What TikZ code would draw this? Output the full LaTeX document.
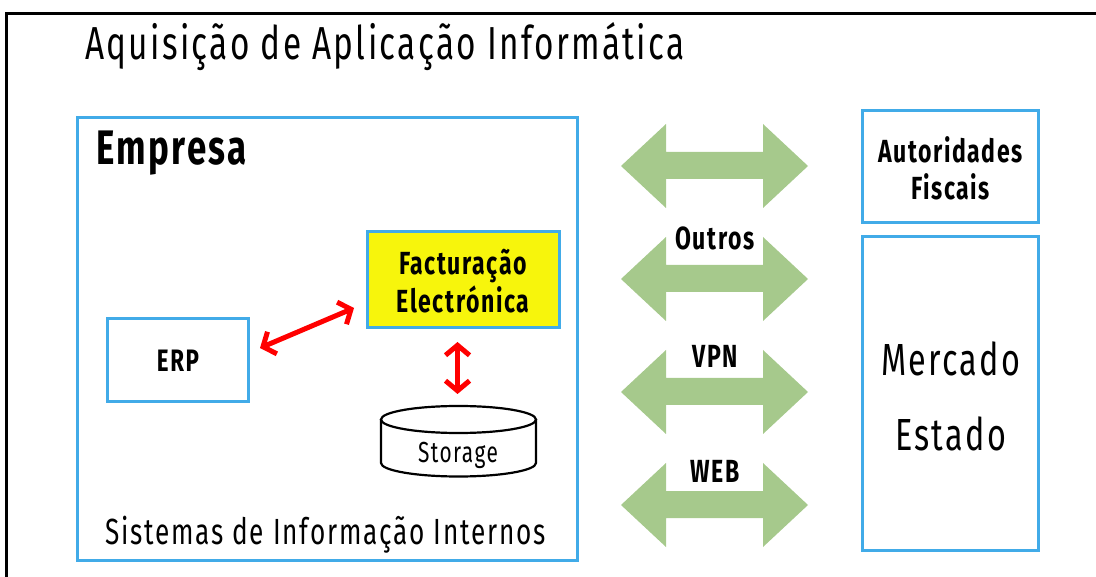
\documentclass[tikz,border=0pt]{standalone}
\usepackage{fontspec}
\setmainfont{Fira Sans}[FakeStretch=0.72,LetterSpace=5]
\usetikzlibrary{arrows.meta}
\definecolor{boxblue}{HTML}{41ABE8}
\definecolor{arrowgreen}{HTML}{A6C98C}
\definecolor{factyellow}{HTML}{F7F50C}
\tikzset{
  x=1pt,y=-1pt,
  bluebox/.style={draw=boxblue,line width=3pt,fill=white,inner sep=0pt,align=center},
  redarrow/.style={draw=red,line width=5pt,{Straight Barb[length=10pt,width=24pt,line width=5pt]}-{Straight Barb[length=10pt,width=24pt,line width=5pt]}},
  greenarrow/.style={fill=arrowgreen,draw=none},
  label/.style={inner sep=0pt,align=center,text=black},
  boldlabel/.style={label,font=\fontsize{32}{37}\selectfont\bfseries},
}
\newcommand{\dblarrow}[1]{%
  \path[greenarrow] (621,#1) -- (666,#1-42) -- (666,#1-14) -- (763,#1-14) -- (763,#1-42) -- (808,#1) -- (763,#1+42) -- (763,#1+13) -- (666,#1+13) -- (666,#1+42) -- cycle;
}
\newcommand{\lowered}[1]{\raisebox{-1pt}[\height][\depth]{#1}}
\begin{document}
\begin{tikzpicture}
\useasboundingbox (0,0) rectangle (1096,577);
\draw[black,line width=3pt] (6.5,590) -- (6.5,13.5) -- (1100,13.5);
\node[label,anchor=west,font=\fontsize{46.3}{50}\selectfont] (title) at (85,47) {Aquisição de Aplicação Informática};
\node[bluebox,minimum width=500pt,minimum height=442pt] (empresa) at (327.5,339) {};
\node[label,anchor=west,font=\fontsize{48.5}{50}\selectfont\bfseries] (emp) at (96,153) {Empresa};
\node[bluebox,fill=factyellow,minimum width=192pt,minimum height=96pt,font=\fontsize{32}{38}\selectfont\bfseries] (fact) at (463,280) {\lowered{Facturação}\\\lowered{Electrónica}};
\node[bluebox,minimum width=141pt,minimum height=83pt,font=\fontsize{31}{30}\selectfont\bfseries] (erp) at (178,360) {\lowered{ERP}};
\draw[black,line width=2.2pt,fill=white] (381,419.5) -- (381,463) arc[start angle=180,end angle=0,x radius=77.5,y radius=13.5] -- (536,419.5);
\draw[black,line width=2.2pt,fill=white] (458.5,419.5) ellipse[x radius=77.5,y radius=13.5];
\node[label,font=\fontsize{29}{30}\selectfont] (storagetext) at (458,455) {Storage};
\node[label,font=\fontsize{36.4}{37}\selectfont] (sis) at (325.5,535) {Sistemas de Informação Internos};
\coordinate (ea) at (260,348);
\coordinate (fa) at (354,308);
\draw[redarrow] (ea) -- (fa);
\coordinate (fb) at (457.5,342);
\coordinate (sb) at (457.5,394);
\draw[redarrow] (fb) -- (sb);
\dblarrow{166}
\dblarrow{279}
\dblarrow{392}
\dblarrow{505}
\node[boldlabel] (outros) at (715,238) {Outros};
\node[boldlabel] (vpn) at (715,356) {VPN};
\node[boldlabel] (web) at (715,471) {WEB};
\node[bluebox,minimum width=176pt,minimum height=112pt,font=\fontsize{32}{37}\selectfont\bfseries] (aut) at (950.5,167) {\lowered{Autoridades}\\\lowered{Fiscais}};
\node[bluebox,minimum width=176pt,minimum height=314pt] (mer) at (950.5,393.5) {};
\node[label,font=\fontsize{45}{75}\selectfont] (mertext) at (950.5,396) {Mercado\\Estado};
\end{tikzpicture}
\end{document}
